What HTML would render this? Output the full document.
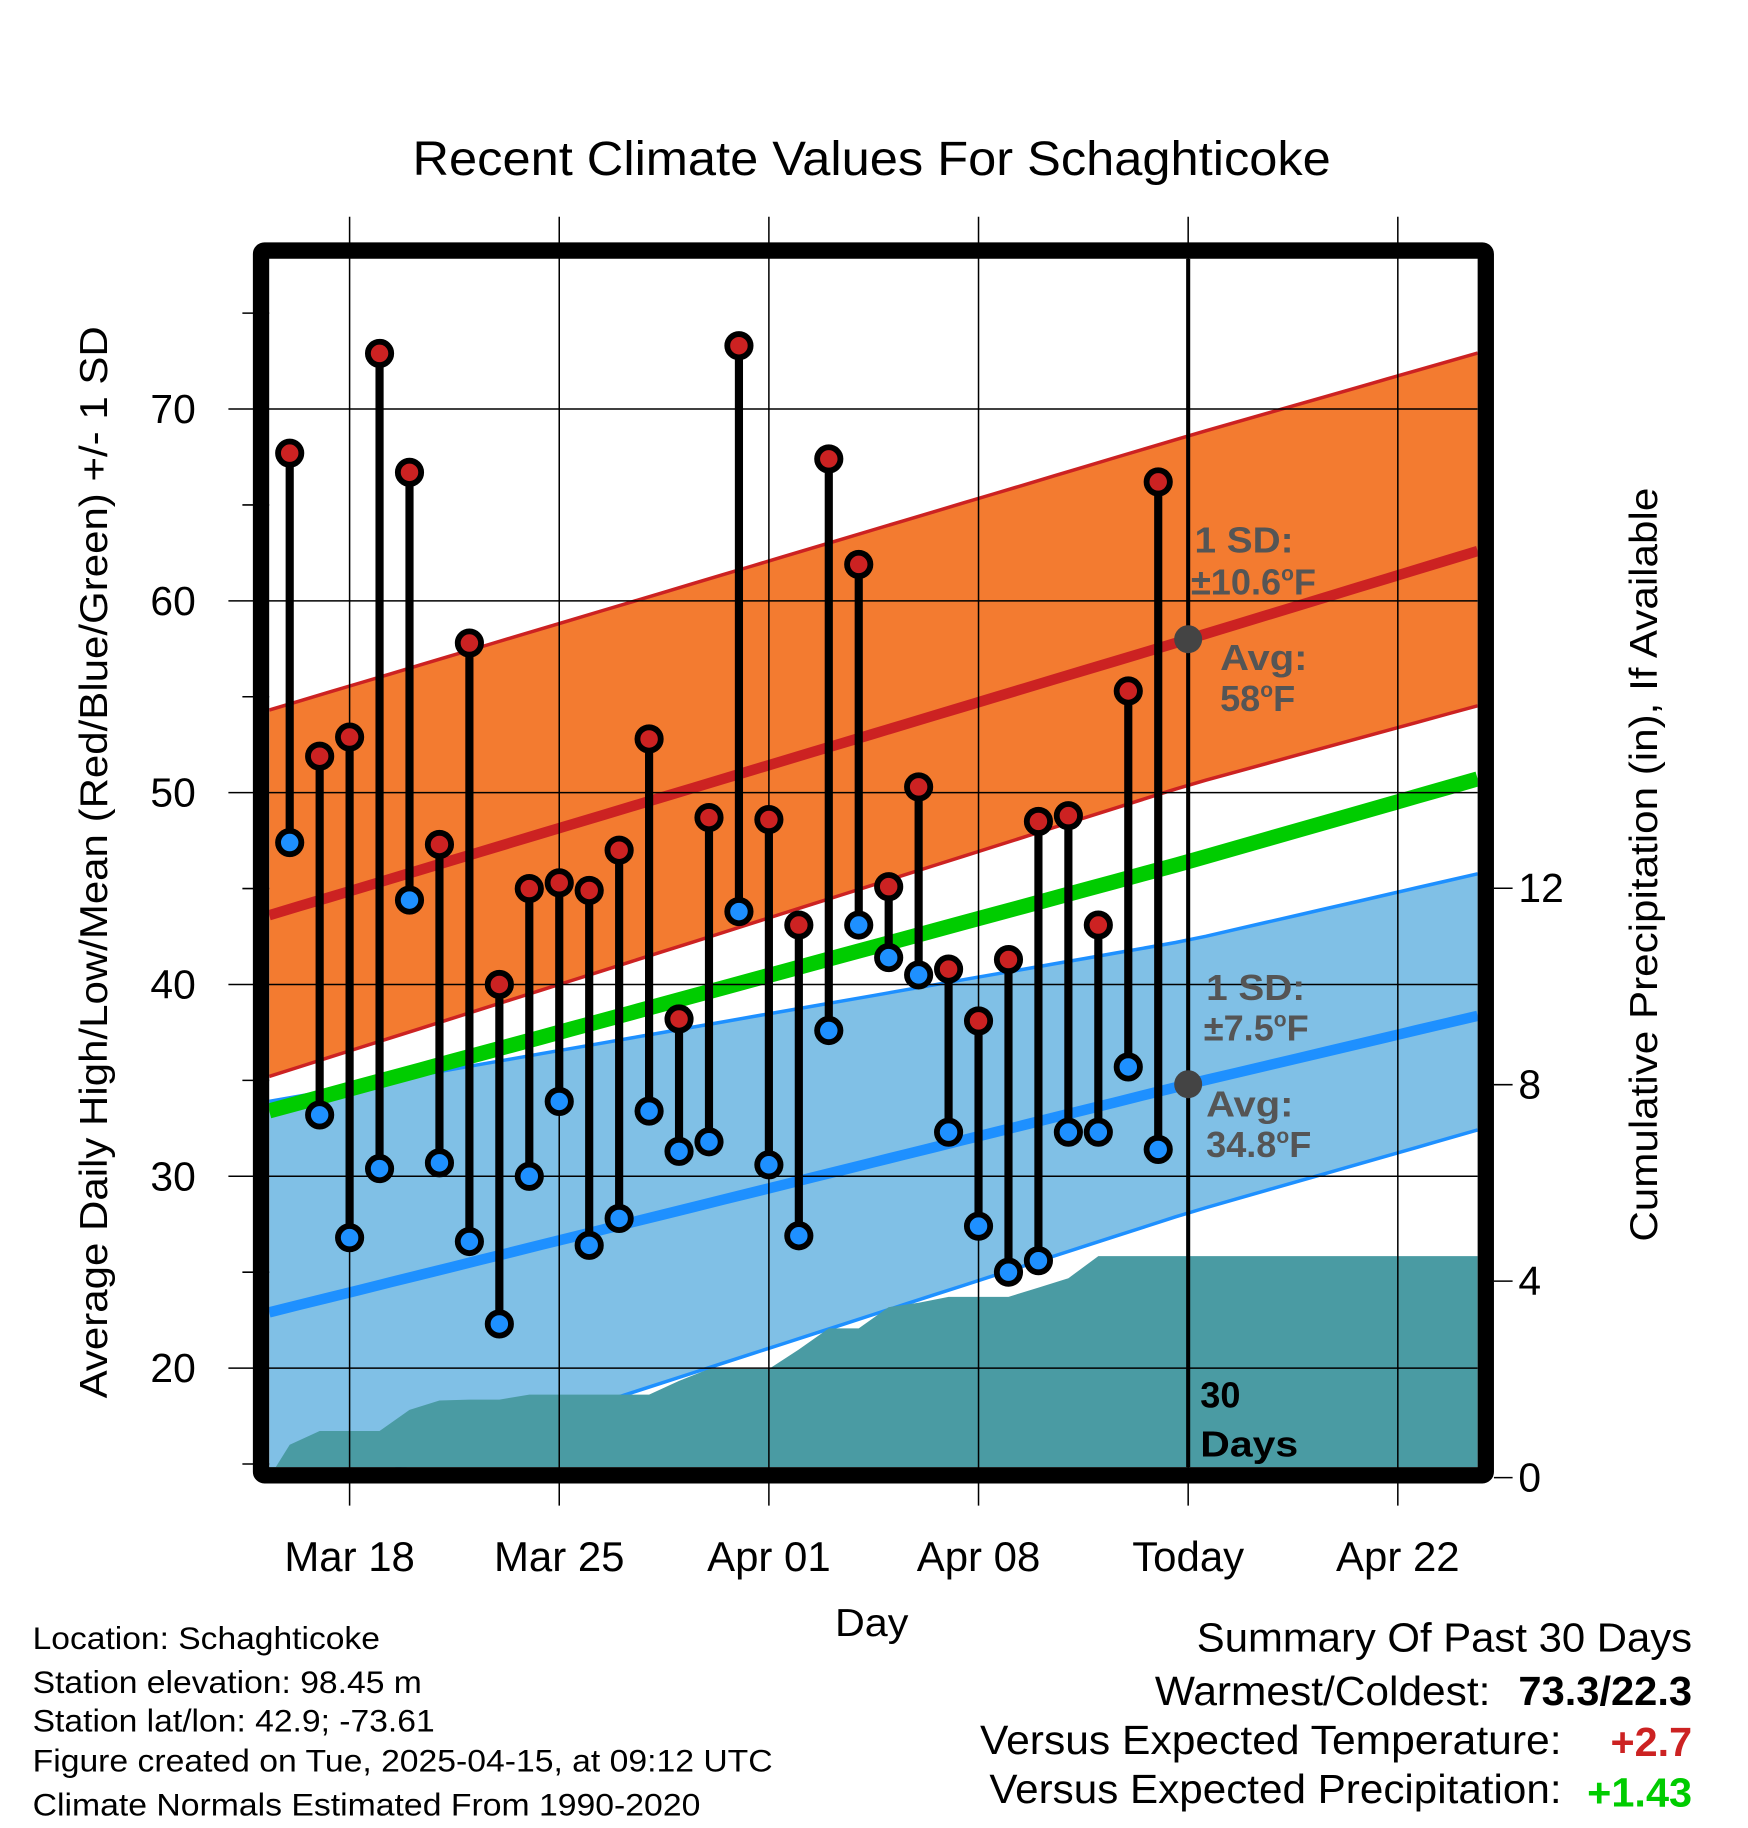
<!DOCTYPE html>
<html><head><meta charset="utf-8"><style>
html,body{margin:0;padding:0;background:#fff}
svg{display:block;font-family:"Liberation Sans",Arial,sans-serif}
</style></head><body>
<svg id="c" width="1748" height="1828" viewBox="0 0 1500 1568.65" xmlns="http://www.w3.org/2000/svg">
<g id="layer"></g>
</svg>
<script>
// ---- data ----
const dayLabels=["Mar 16","Mar 17","Mar 18","Mar 19","Mar 20","Mar 21","Mar 22","Mar 23","Mar 24","Mar 25","Mar 26","Mar 27","Mar 28","Mar 29","Mar 30","Mar 31","Apr 01","Apr 02","Apr 03","Apr 04","Apr 05","Apr 06","Apr 07","Apr 08","Apr 09","Apr 10","Apr 11","Apr 12","Apr 13","Apr 14"];
const dayOffsets=[-2,-1,0,1,2,3,4,5,6,7,8,9,10,11,12,13,14,15,16,17,18,19,20,21,22,23,24,25,26,27];
const highs=[67.7,51.9,52.9,72.9,66.7,47.3,57.8,40.0,45.0,45.3,44.9,47.0,52.8,38.2,48.7,73.3,48.6,43.1,67.4,61.9,45.1,50.3,40.8,38.1,41.3,48.5,48.8,43.1,55.3,66.2];
const lows=[47.4,33.2,26.8,30.4,44.4,30.7,26.6,22.3,30.0,33.9,26.4,27.8,33.4,31.3,31.8,43.8,30.6,26.9,37.6,43.1,41.4,40.5,32.3,27.4,25.0,25.6,32.3,32.3,35.7,31.4];
const precipCum=[0.67,0.95,0.95,0.95,1.38,1.57,1.59,1.59,1.69,1.69,1.69,1.69,1.69,1.97,2.21,2.21,2.21,2.61,3.04,3.04,3.47,3.56,3.68,3.68,3.68,3.87,4.06,4.51,4.51,4.51];
const normDays=[-2.7,28,38.3];
const highAvg=[43.6,58.0,62.9];
const highUpper=[54.3,68.6,73.2];
const highLower=[35.2,50.4,54.8];
const meanAvg=[33.4,46.4,51.0];
const lowAvg=[22.9,34.8,38.6];
const lowUpper=[33.9,42.3,46.0];
const lowLower=[12.6,28.1,32.7];
const xTickDays=[0,7,14,21,28,35];
const xTickLabels=["Mar 18","Mar 25","Apr 01","Apr 08","Today","Apr 22"];
const yTicks=[20,30,40,50,60,70];
const yMinor=[15,25,35,45,55,65,75];
const pTicks=[0,4,8,12];
// ---- axes ----
const L=231,R=1268,T=222,B=1259;
const x=d=>300+d*25.7;
const y=v=>1174-(v-20)*16.46;
const yp=p=>1268-p*42.15;
const NS="http://www.w3.org/2000/svg";
const g=document.getElementById('layer');
function el(tag,attrs,parent){const e=document.createElementNS(NS,tag);for(const k in attrs)e.setAttribute(k,attrs[k]);(parent||g).appendChild(e);return e;}
function interp(arr,d){for(let i=0;i<normDays.length-1;i++){if(d<=normDays[i+1]||i==normDays.length-2){const t=(d-normDays[i])/(normDays[i+1]-normDays[i]);return arr[i]+t*(arr[i+1]-arr[i]);}}}
const dL=(L-300)/25.7,dR=(R-300)/25.7;
const sampleD=[];for(let k=0;k<=40;k++)sampleD.push(dL+(dR-dL)*k/40);
function line(arr){return sampleD.map(d=>x(d).toFixed(1)+","+y(interp(arr,d)).toFixed(1));}
function band(up,lo){return line(up).concat(line(lo).reverse()).join(" ");}
const defs=el('defs',{});const cp=el('clipPath',{id:'pc'},defs);el('rect',{x:L,y:T,width:R-L,height:B-T},cp);
const pg=el('g',{'clip-path':'url(#pc)'});
let e;
e=el('polygon',{points:band(highUpper,highLower),fill:'#f37b30'},pg);
e=el('polygon',{points:band(lowUpper,lowLower),fill:'#80c0e6'},pg);
[[highUpper,'#cc2222',3],[highLower,'#cc2222',3],[lowUpper,'#1e90ff',3],[lowLower,'#1e90ff',3],[highAvg,'#cc2222',9],[meanAvg,'#00cc00',13],[lowAvg,'#1e90ff',9]].forEach((a,i)=>{
 e=el('polyline',{points:line(a[0]).join(" "),fill:'none',stroke:a[1],'stroke-width':a[2]},pg);
 
 
});
// gridlines
yTicks.forEach(v=>{e=el('line',{x1:196,x2:R,y1:y(v),y2:y(v),stroke:'#000','stroke-width':1.3});});
yMinor.forEach(v=>{e=el('line',{x1:208,x2:L,y1:y(v),y2:y(v),stroke:'#000','stroke-width':1.3});});
xTickDays.forEach(d=>{e=el('line',{x1:x(d),x2:x(d),y1:186,y2:1292,stroke:'#000','stroke-width':1.3});});
pTicks.forEach(p=>{e=el('line',{x1:1282,x2:1298,y1:yp(p),y2:yp(p),stroke:'#000','stroke-width':1.3});});
// precip area
let pp=[L+","+B,L+","+yp(0)];
dayOffsets.forEach((d,i)=>pp.push(x(d).toFixed(1)+","+yp(precipCum[i]).toFixed(1)));
pp.push(R+","+yp(precipCum[precipCum.length-1]).toFixed(1));pp.push(R+","+B);
e=el('polygon',{points:pp.join(" "),fill:'#4a9ba3'},pg);
// today line
e=el('line',{x1:x(28),x2:x(28),y1:T,y2:B,stroke:'#000','stroke-width':3.5});
// annotations
function txt(s,xx,yy,attrs,name,tl){const a=Object.assign({x:xx,y:yy},attrs);if(tl){a.textLength=tl;a.lengthAdjust='spacingAndGlyphs';}const t=el('text',a);t.innerHTML=s;return t;}
const ann={'font-size':31,'font-weight':'bold',fill:'#555'};
txt('1 SD:',1025,474,ann,'high-sd-label',85);
txt('±10.6<tspan dy="-12" font-size="18">o</tspan><tspan dy="12">F</tspan>',1022,510,ann,'high-sd-value');
txt('Avg:',1047,575,ann,'high-avg-label',75);
txt('58<tspan dy="-12" font-size="18">o</tspan><tspan dy="12">F</tspan>',1047,610,ann,'high-avg-value');
txt('1 SD:',1035,858,ann,'low-sd-label',85);
txt('±7.5<tspan dy="-12" font-size="18">o</tspan><tspan dy="12">F</tspan>',1033,893,ann,'low-sd-value');
txt('Avg:',1035,958,ann,'low-avg-label',75);
txt('34.8<tspan dy="-12" font-size="18">o</tspan><tspan dy="12">F</tspan>',1035,993,ann,'low-avg-value');
e=el('circle',{cx:x(28),cy:y(58),r:12,fill:'#444'});
e=el('circle',{cx:x(28),cy:y(34.8),r:12,fill:'#444'});
txt('30',1030,1208,{'font-size':31,'font-weight':'bold'},'days-label-30');
txt('Days',1030,1250,{'font-size':31,'font-weight':'bold'},'days-label',84);
// stems and markers
dayOffsets.forEach((d,i)=>{
 e=el('line',{x1:x(d),x2:x(d),y1:y(highs[i]),y2:y(lows[i]),stroke:'#000','stroke-width':7});
 
});
dayOffsets.forEach((d,i)=>{
 e=el('circle',{cx:x(d),cy:y(highs[i]),r:10,fill:'#cc2222',stroke:'#000','stroke-width':5});
 
 e=el('circle',{cx:x(d),cy:y(lows[i]),r:10,fill:'#1e90ff',stroke:'#000','stroke-width':5});
 
});
// frame
e=el('rect',{x:224,y:215,width:1051,height:1051,fill:'none',stroke:'#000','stroke-width':14,rx:3});
// tick labels
yTicks.forEach(v=>txt(String(v),168,y(v)+12,{'font-size':35,'text-anchor':'end'},'y-tick-label'));
pTicks.forEach(p=>txt(String(p),1303,yp(p)+12,{'font-size':35},'precip-tick-label'));
xTickDays.forEach((d,i)=>txt(xTickLabels[i],x(d),1348,{'font-size':36,'text-anchor':'middle'},'x-tick-label'));
txt('Recent Climate Values For Schaghticoke',748,150,{'font-size':41,'text-anchor':'middle'},'chart-title',788);
txt('Day',748,1404,{'font-size':33,'text-anchor':'middle'},'x-axis-title',63);
txt('Average Daily High/Low/Mean (Red/Blue/Green) +/- 1 SD',92,740,{'font-size':33,'text-anchor':'middle',transform:'rotate(-90 92 740)'},'y-axis-title',920);
txt('Cumulative Precipitation (in), If Available',1422,742,{'font-size':33,'text-anchor':'middle',transform:'rotate(-90 1422 742)'},'precip-axis-title',647);
const info=["Location: Schaghticoke","Station elevation: 98.45 m","Station lat/lon: 42.9; -73.61","Figure created on Tue, 2025-04-15, at 09:12 UTC","Climate Normals Estimated From 1990-2020"];
const iw=[298,334,345,635,573];
const iy=[1415,1453,1486,1520,1558];
info.forEach((s,i)=>txt(s,28,iy[i],{'font-size':27},'station-info-line',iw[i]));
txt('Summary Of Past 30 Days',1452,1417,{'font-size':35,'text-anchor':'end'},'summary-title',425);
txt('Warmest/Coldest:',1279,1463,{'font-size':35,'text-anchor':'end'},'warmest-coldest-label',288);
txt('73.3/22.3',1452,1463,{'font-size':35,'text-anchor':'end','font-weight':'bold'},'warmest-coldest-value',149);
txt('Versus Expected Temperature:',1340,1505,{'font-size':35,'text-anchor':'end'},'temp-anomaly-label',499);
txt('+2.7',1452,1507,{'font-size':35,'text-anchor':'end','font-weight':'bold',fill:'#cc2222'},'temp-anomaly-value',70);
txt('Versus Expected Precipitation:',1340,1547,{'font-size':35,'text-anchor':'end'},'precip-anomaly-label',491);
txt('+1.43',1452,1550,{'font-size':35,'text-anchor':'end','font-weight':'bold',fill:'#00cc00'},'precip-anomaly-value',90);
</script>
</body></html>
